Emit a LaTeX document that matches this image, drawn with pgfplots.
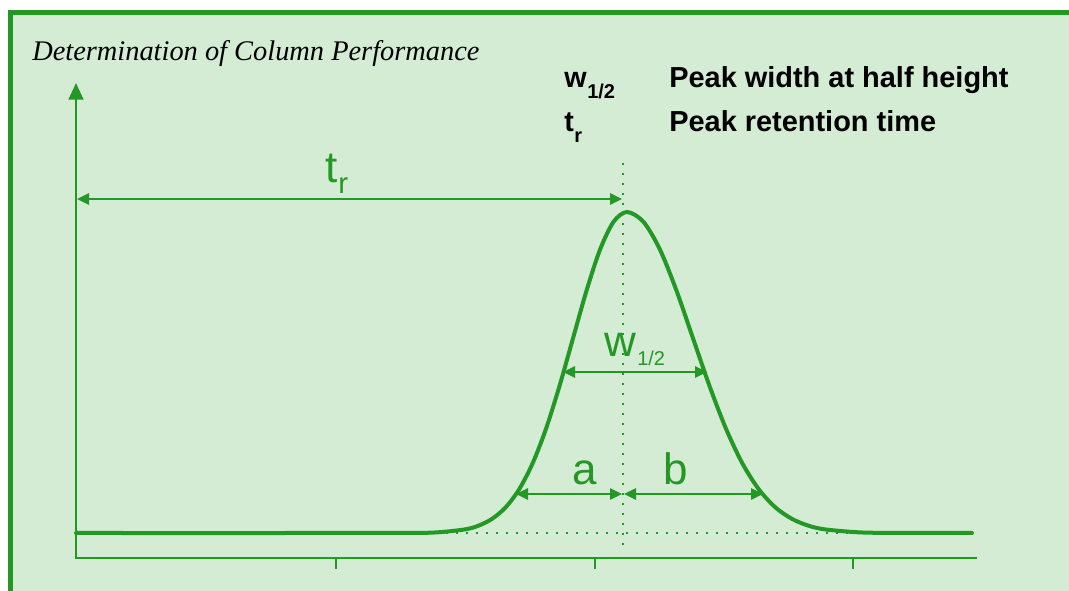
\documentclass[border=0pt]{standalone}
\usepackage{pgfplots}
\pgfplotsset{compat=1.18}
\usepackage{fontspec}
\setmainfont{Liberation Serif}
\newfontfamily\arial{Liberation Sans}
\usetikzlibrary{arrows.meta}
\definecolor{bg}{RGB}{212,235,212}
\definecolor{gr}{RGB}{36,152,36}
\begin{document}
\begin{tikzpicture}
\begin{axis}[scale only axis, width=801.75pt, height=443.25pt,
  xmin=0, xmax=1069, ymin=0, ymax=591, hide axis, clip=false,
  at={(0,0)}, anchor=south west]
% background and frame
\fill[white] (axis cs:0,0) rectangle (axis cs:1069,591);
\fill[bg] (axis cs:8,0) rectangle (axis cs:1069,581);
\draw[gr, line width=3.75pt] (axis cs:8,578.5) -- (axis cs:1069,578.5);
\draw[gr, line width=3.75pt] (axis cs:10.5,581) -- (axis cs:10.5,0);
% dotted guides
\draw[gr, line width=1.5pt, dash pattern=on 1.5pt off 6pt] (axis cs:76,58) -- (axis cs:972,58);
\draw[gr, line width=1.5pt, dash pattern=on 1.5pt off 6pt] (axis cs:623,428) -- (axis cs:623,40);
% axes
\draw[gr, line width=1.9pt, -{Triangle[length=12.5pt, width=11pt]}] (axis cs:76,32) -- (axis cs:76,508);
\draw[gr, line width=1.6pt] (axis cs:76,33.3) -- (axis cs:977,33.3);
\draw[gr, line width=1.6pt] (axis cs:336,33.3) -- (axis cs:336,22);
\draw[gr, line width=1.6pt] (axis cs:595,33.3) -- (axis cs:595,22);
\draw[gr, line width=1.6pt] (axis cs:853,33.3) -- (axis cs:853,22);
% peak
\addplot[gr, line width=3pt, line cap=round, smooth] coordinates {
(76,58) (300,58) (411,58.1) (438,58.7) (465,61.6) (478.5,65.3) (492,72.1)
(505.5,83.5) (519,101.4) (532.5,127.4) (546,162.2) (559.5,205.0) (573,252.7)
(586.5,300.3) (600,341.3) (613.5,369.1) (627,379) (643.5,369.1) (660,341.3)
(676.5,300.3) (693,252.7) (709.5,205.0) (726,162.2) (742.5,127.4) (759,101.4)
(775.5,83.5) (792,72.1) (808.5,65.3) (825,61.6) (858,58.7) (891,58.1) (972,58)
};
% dimension arrows
\tikzset{dim/.style={gr, line width=1.5pt, {Triangle[length=9pt, width=8.5pt]}-{Triangle[length=9pt, width=8.5pt]}}}
\draw[dim] (axis cs:77,392) -- (axis cs:622,392);
\draw[dim] (axis cs:563,219) -- (axis cs:707,219);
\draw[dim] (axis cs:516,97) -- (axis cs:622,97);
\draw[dim] (axis cs:624,97) -- (axis cs:763,97);
% green labels
\node[anchor=base west, inner sep=0, text=gr] at (axis cs:325,408) {\arial\fontsize{33}{36}\selectfont t};
\node[anchor=base west, inner sep=0, text=gr] at (axis cs:338,397) {\arial\fontsize{22}{26}\selectfont r};
\node[anchor=base west, inner sep=0, text=gr] at (axis cs:604,234) {\arial\fontsize{33}{36}\selectfont w};
\node[anchor=base west, inner sep=0, text=gr] at (axis cs:637,225) {\arial\fontsize{15}{18}\selectfont 1/2};
\node[anchor=base west, inner sep=0, text=gr] at (axis cs:572,106) {\arial\fontsize{33}{36}\selectfont a};
\node[anchor=base west, inner sep=0, text=gr] at (axis cs:663,106) {\arial\fontsize{33}{36}\selectfont b};
% title and legend
\node[anchor=base west, inner sep=0] at (axis cs:32,530) {\fontsize{21.3}{25}\selectfont\itshape Determination of Column Performance};
\node[anchor=base west, inner sep=0] at (axis cs:564,503) {\arial\bfseries\fontsize{21.5}{25}\selectfont w};
\node[anchor=base west, inner sep=0] at (axis cs:587,492) {\arial\bfseries\fontsize{15}{18}\selectfont 1/2};
\node[anchor=base west, inner sep=0] at (axis cs:564,459) {\arial\bfseries\fontsize{21.5}{25}\selectfont t};
\node[anchor=base west, inner sep=0] at (axis cs:574,448) {\arial\bfseries\fontsize{15}{18}\selectfont r};
\node[anchor=base west, inner sep=0] at (axis cs:669,503) {\arial\bfseries\fontsize{21.7}{25}\selectfont Peak width at half height};
\node[anchor=base west, inner sep=0] at (axis cs:669,459) {\arial\bfseries\fontsize{21.7}{25}\selectfont Peak retention time};
\end{axis}
\pgfresetboundingbox
\path (0,0) rectangle (801.75pt,443.25pt);
\end{tikzpicture}
\end{document}
